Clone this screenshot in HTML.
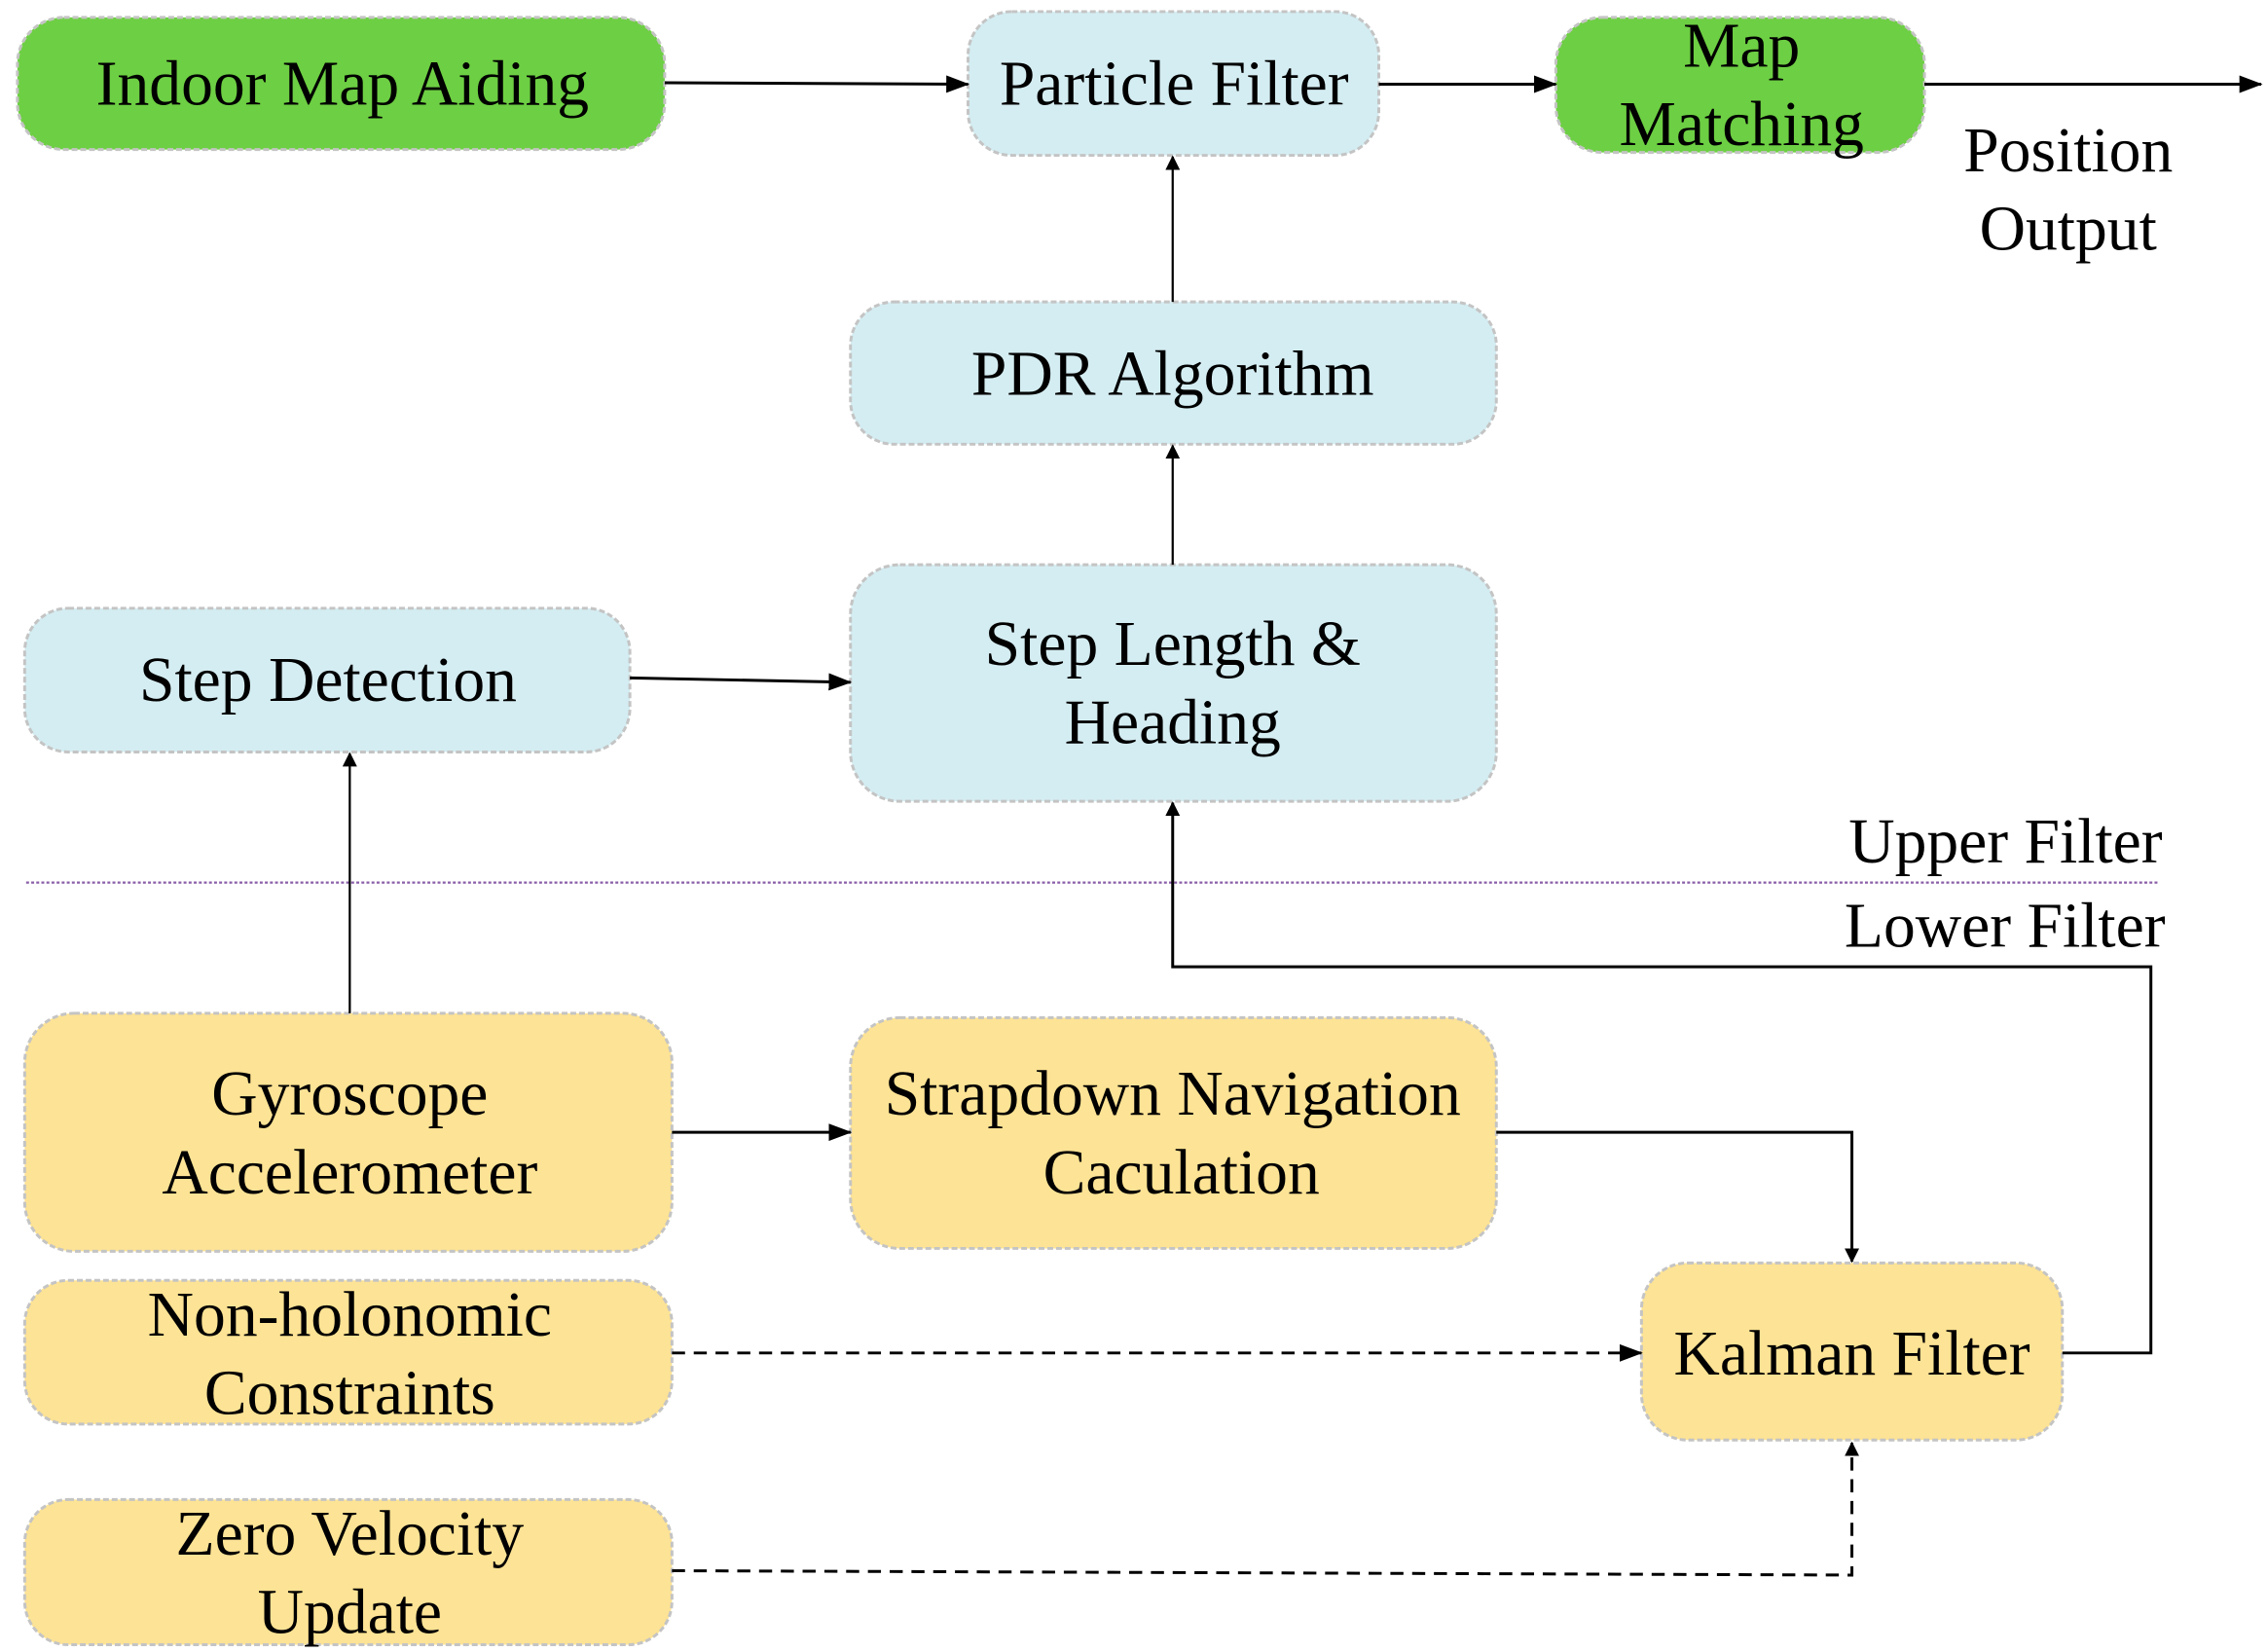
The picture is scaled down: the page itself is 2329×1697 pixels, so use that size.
<!DOCTYPE html>
<html><head><meta charset="utf-8"><style>html,body{margin:0;padding:0;background:#fff}svg{display:block}</style></head>
<body>
<svg width="2329" height="1697" viewBox="0 0 1562 1138" preserveAspectRatio="none" xmlns="http://www.w3.org/2000/svg">
<defs>
<marker id="a" markerWidth="10" markerHeight="10" refX="9" refY="5" orient="auto" markerUnits="userSpaceOnUse"><path d="M0,0 L10,5 L0,10 z" fill="#000"/></marker>
<marker id="b" markerWidth="16" markerHeight="12" refX="15" refY="6" orient="auto" markerUnits="userSpaceOnUse"><path d="M0,0 L16,6 L0,12 z" fill="#000"/></marker>
</defs>
<g stroke="#c4c4c4" stroke-width="2" stroke-dasharray="4,2">
<rect x="12" y="12" width="446" height="91" rx="32" fill="#6dcf43"/>
<rect x="667" y="8" width="283" height="99" rx="30" fill="#d4edf2"/>
<rect x="1072" y="12" width="254" height="93" rx="32" fill="#6dcf43"/>
<rect x="586" y="208" width="445" height="98" rx="30" fill="#d4edf2"/>
<rect x="586" y="389" width="445" height="163" rx="34" fill="#d4edf2"/>
<rect x="17" y="419" width="417" height="99" rx="30" fill="#d4edf2"/>
<rect x="17" y="698" width="446" height="164" rx="34" fill="#fde395"/>
<rect x="586" y="701" width="445" height="159" rx="34" fill="#fde395"/>
<rect x="1131" y="870" width="290" height="122" rx="32" fill="#fde395"/>
<rect x="17" y="882" width="446" height="99" rx="30" fill="#fde395"/>
<rect x="17" y="1033" width="446" height="100" rx="30" fill="#fde395"/>
</g>
<line x1="18" y1="608" x2="1487" y2="608" stroke="#8a5ea8" stroke-width="1.5" stroke-dasharray="2,1.5"/>
<g stroke="#000" fill="none" stroke-width="2">
<line x1="458" y1="57" x2="667" y2="58" marker-end="url(#b)"/>
<line x1="950" y1="58" x2="1072" y2="58" marker-end="url(#b)"/>
<line x1="1326" y1="58" x2="1558" y2="58" marker-end="url(#b)"/>
<line x1="808" y1="208" x2="808" y2="108" stroke-width="1.5" marker-end="url(#a)"/>
<line x1="808" y1="389" x2="808" y2="307" stroke-width="1.5" marker-end="url(#a)"/>
<line x1="434" y1="467" x2="586" y2="470" marker-end="url(#b)"/>
<line x1="241" y1="698" x2="241" y2="519" stroke-width="1.5" marker-end="url(#a)"/>
<polyline points="1421,932 1482,932 1482,666 808,666 808,553" marker-end="url(#a)"/>
<line x1="463" y1="780" x2="586" y2="780" marker-end="url(#b)"/>
<polyline points="1031,780 1276,780 1276,869" marker-end="url(#a)"/>
<line x1="463" y1="932" x2="1131" y2="932" stroke-dasharray="9,6" marker-end="url(#b)"/>
<polyline points="463,1082 1276,1085 1276,994" stroke-dasharray="9,6" marker-end="url(#a)"/>
</g>
<g font-family="'Liberation Serif',serif" font-size="44" text-anchor="middle" fill="#000">
<text x="236" y="72">Indoor Map Aiding</text>
<text x="809" y="72">Particle Filter</text>
<text x="1200" y="46">Map</text>
<text x="1200" y="100">Matching</text>
<text x="1425" y="118">Position</text>
<text x="1425" y="172">Output</text>
<text x="808" y="272">PDR Algorithm</text>
<text x="808" y="458">Step Length &amp;</text>
<text x="808" y="512">Heading</text>
<text x="226" y="483">Step Detection</text>
<text x="1490" y="594" text-anchor="end">Upper Filter</text>
<text x="1492" y="652" text-anchor="end">Lower Filter</text>
<text x="241" y="768">Gyroscope</text>
<text x="241" y="822">Accelerometer</text>
<text x="808" y="768">Strapdown Navigation</text>
<text x="814" y="822">Caculation</text>
<text x="1276" y="947">Kalman Filter</text>
<text x="241" y="920">Non-holonomic</text>
<text x="241" y="974">Constraints</text>
<text x="241" y="1071">Zero Velocity</text>
<text x="241" y="1125">Update</text>
</g>
</svg>
</body></html>
